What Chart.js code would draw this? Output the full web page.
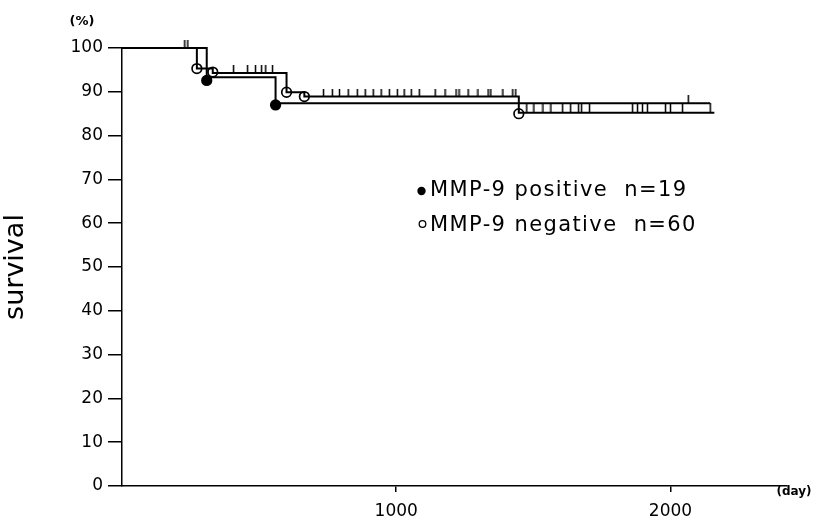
<!DOCTYPE html>
<html><head><meta charset="utf-8">
<script src="https://cdn.jsdelivr.net/npm/chart.js@4/dist/chart.umd.min.js"></script>
<style>html,body{margin:0;padding:0;background:#fff;} #wrap{width:816px;height:520px;position:relative;}</style>
</head><body><div id="wrap"><canvas id="c" width="816" height="520"></canvas></div>
<script>
// ---- data ----
const yTickValues = [0, 10, 20, 30, 40, 50, 60, 70, 80, 90, 100];
const xTickValues = [1000, 2000];
// MMP-9 negative (n=60) Kaplan-Meier steps: survival after each time
const negTimes = [0, 273, 331, 600, 665, 1447, 2160];
const negSurv  = [100, 95.3, 94.3, 89.9, 88.9, 85.2, 85.2];
// MMP-9 positive (n=19)
const posTimes = [0, 309, 560, 2145];
const posSurv  = [100, 93.3, 87.4, 87.4];
// event markers (circles)
const negEventTimes = [273, 331, 600, 665, 1447];
const negEventSurv  = [95.3, 94.5, 89.9, 88.9, 85.0];
const posEventTimes = [309, 560];
const posEventSurv  = [92.6, 87.0];
// censored observations (tick marks)
const negCensored = [407, 458, 487, 509, 524, 549,
  735, 767, 793, 825, 858, 887, 916, 945, 975, 1004, 1029, 1055, 1084, 1142, 1178, 1218, 1229, 1262, 1298, 1335, 1345, 1389, 1425, 1436,
  1476, 1502, 1535, 1564, 1607, 1636, 1665, 1676, 1705, 1862, 1880, 1898, 1916, 1982, 2000, 2044, 2145];
const posCensored = [229, 240, 2065];
const legendLabels = ['MMP-9 positive  n=19', 'MMP-9 negative  n=60'];

// ---- helpers ----
function survAt(times, surv, t) {
  let v = surv[0];
  for (let i = 0; i < times.length; i++) { if (times[i] <= t) v = surv[i]; }
  return v;
}
function tickImg(h) {
  const c = document.createElement('canvas');
  c.width = 3; c.height = 2 * h;
  const g = c.getContext('2d');
  g.fillStyle = '#000';
  g.fillRect(0.75, 0, 1.5, h);
  return c;
}
const tickShort = tickImg(8);
const tickTall = tickImg(10);
const FONT = 'DejaVu Sans';

const textPlugin = {
  id: 'texts',
  afterDraw(chart) {
    const ctx = chart.ctx;
    ctx.save();
    ctx.fillStyle = '#000';
    ctx.textBaseline = 'middle';
    ctx.textAlign = 'center';
    ctx.font = 'bold 13px "' + FONT + '"';
    ctx.fillText('(%)', 82, 22);
    ctx.font = 'bold 12px "' + FONT + '"';
    ctx.fillText('(day)', 794, 492);
    // legend
    ctx.textAlign = 'left';
    ctx.font = '21px "' + FONT + '"';
    try { ctx.letterSpacing = '1.4px'; } catch (e) {}
    ctx.fillText(legendLabels[0], 430, 191);
    ctx.fillText(legendLabels[1], 430, 226);
    ctx.beginPath(); ctx.arc(421.5, 191, 4.2, 0, Math.PI * 2); ctx.fill();
    ctx.beginPath(); ctx.arc(422.5, 224, 3.3, 0, Math.PI * 2);
    ctx.lineWidth = 1.3; ctx.strokeStyle = '#000'; ctx.stroke();
    ctx.restore();
  }
};

new Chart(document.getElementById('c'), {
  type: 'scatter',
  data: {
    datasets: [
      { label: 'MMP-9 negative', data: negTimes.map((t, i) => ({x: t, y: negSurv[i]})),
        showLine: true, stepped: true, borderColor: '#000', borderWidth: 2, pointRadius: 0, fill: false, clip: false },
      { label: 'MMP-9 positive', data: posTimes.map((t, i) => ({x: t, y: posSurv[i]})),
        showLine: true, stepped: true, borderColor: '#000', borderWidth: 2, pointRadius: 0, fill: false, clip: false },
      { label: 'neg censored', data: negCensored.map(t => ({x: t, y: survAt(negTimes, negSurv, t)})),
        pointStyle: (c) => (c.raw && c.raw.y < 86 ? tickTall : tickShort), pointRadius: 3, clip: false },
      { label: 'pos censored', data: posCensored.map(t => ({x: t, y: survAt(posTimes, posSurv, t)})),
        pointStyle: tickShort, pointRadius: 3, clip: false },
      { label: 'neg events', data: negEventTimes.map((t, i) => ({x: t, y: negEventSurv[i]})),
        pointStyle: 'circle', pointRadius: 4.8, borderWidth: 1.7, borderColor: '#000', backgroundColor: '#fff', clip: false },
      { label: 'pos events', data: posEventTimes.map((t, i) => ({x: t, y: posEventSurv[i]})),
        pointStyle: 'circle', pointRadius: 4.8, borderWidth: 1.7, borderColor: '#000', backgroundColor: '#000', clip: false }
    ]
  },
  options: {
    responsive: false, animation: false, events: [],
    layout: { padding: { top: 48, right: 29, left: 0, bottom: 0 } },
    plugins: { legend: { display: false }, tooltip: { enabled: false } },
    scales: {
      x: {
        type: 'linear', min: 0, max: 2425,
        afterBuildTicks: s => { s.ticks = xTickValues.map(v => ({value: v})); },
        afterFit: s => { s.height = 34; },
        grid: { drawOnChartArea: false, drawTicks: true, tickLength: 6, color: '#000', lineWidth: 1.5 },
        border: { color: '#000', width: 1.5 },
        ticks: { color: '#000', font: { family: FONT, size: 17 }, padding: 9, maxRotation: 0, callback: v => String(v) }
      },
      y: {
        min: 0, max: 100,
        afterBuildTicks: s => { s.ticks = yTickValues.map(v => ({value: v})); },
        afterFit: s => { s.width = 122; },
        grid: { drawOnChartArea: false, drawTicks: true, tickLength: 14, color: '#000', lineWidth: 1.5 },
        border: { color: '#000', width: 1.5 },
        ticks: { color: '#000', font: { family: FONT, size: 17 }, padding: 5, callback: v => String(v) },
        title: { display: true, text: 'survival', color: '#000', font: { family: FONT, size: 27 }, padding: 0 }
      }
    }
  },
  plugins: [textPlugin]
});
</script></body></html>
